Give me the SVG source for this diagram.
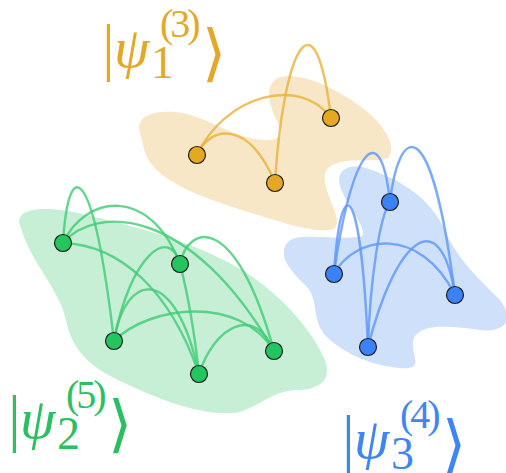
<svg xmlns="http://www.w3.org/2000/svg" width="506" height="473" viewBox="0 0 506 473">
<style>
.e{fill:none;stroke-width:2.4;stroke-linecap:round;stroke-opacity:0.8}
.eo{stroke:#E9B13A}
.eg{stroke:#3FCB74}
.eb{stroke:#5B96F7}
.n{stroke:#1f1f1f;stroke-width:1.2}
.lbl{font-family:"Liberation Serif","DejaVu Serif",serif}
.it{font-style:italic}
.br{font-family:"DejaVu Sans",sans-serif;font-weight:200}
</style>
<rect width="506" height="473" fill="#ffffff"/>
<g id="blobs">
<path id="blob-orange" fill="#F7E7C7" d="M140,133 C135,118 150,110 175,112 C205,115 228,135 255,139 C275,142 286,138 279,125 C271,110 262,86 278,78 C298,70 335,88 360,106 C385,124 398,148 388,158 C375,164 345,155 328,168 C315,182 345,218 335,228 C322,236 280,222 248,212 C210,200 165,185 150,162 C143,152 143,142 140,133 Z"/>
<path id="blob-green" fill="#C6EFD6" d="M20,225 C14,208 45,205 82,214 C132,226 192,240 242,270 C282,295 312,330 325,360 C332,380 320,390 296,390 C270,391 256,410 234,413 C198,416 150,396 110,376 C80,360 70,340 66,320 C60,290 30,262 20,225 Z"/>
<path id="blob-blue" fill="#CFE0FA" d="M288,242 C298,232 330,240 360,237 C372,233 346,206 340,186 C335,168 352,162 372,170 C402,181 430,198 445,230 C456,258 480,280 500,300 C515,320 505,333 480,330 C455,327 422,322 414,338 C408,354 428,370 400,368 C374,366 345,355 326,336 C310,318 320,300 306,286 C292,272 276,256 288,242 Z"/>
</g>
<g id="connectors">
<path class="e eo" d="M197,155 C225,95 300,75 331,118"/>
<path class="e eo" d="M197,155 C210,125 250,120 275,183"/>
<path class="e eo" d="M275,183 C283,50 315,-15 331,118"/>
<path class="e eg" d="M63,243 C68,158 92,155 114,341"/>
<path class="e eg" d="M63,243 C85,195 150,185 180,264"/>
<path class="e eg" d="M63,243 C95,205 190,205 274,351"/>
<path class="e eg" d="M63,243 C120,245 170,290 199,374"/>
<path class="e eg" d="M114,341 C130,255 170,225 180,264"/>
<path class="e eg" d="M180,264 Q192,310 199,374"/>
<path class="e eg" d="M180,264 C188,225 235,210 274,351"/>
<path class="e eg" d="M114,341 C125,272 175,262 199,374"/>
<path class="e eg" d="M114,341 C150,305 240,295 274,351"/>
<path class="e eg" d="M199,374 C215,325 255,305 274,351"/>
<path class="e eb" d="M334,274 C350,155 380,110 390,202"/>
<path class="e eb" d="M390,202 C398,130 430,100 455,295"/>
<path class="e eb" d="M334,274 C340,175 360,170 368,347"/>
<path class="e eb" d="M368,347 C370,280 380,215 390,202"/>
<path class="e eb" d="M334,274 C355,235 420,225 455,295"/>
<path class="e eb" d="M368,347 C395,240 440,200 455,295"/>
</g>
<g id="node-o1"><circle class="n" cx="197" cy="155" r="8.5" fill="#E5A823"/></g>
<g id="node-o2"><circle class="n" cx="275" cy="183" r="8.5" fill="#E5A823"/></g>
<g id="node-o3"><circle class="n" cx="331" cy="118" r="8.5" fill="#E5A823"/></g>
<g id="node-g1"><circle class="n" cx="63" cy="243" r="8.5" fill="#22C55E"/></g>
<g id="node-g2"><circle class="n" cx="180" cy="264" r="8.5" fill="#22C55E"/></g>
<g id="node-g3"><circle class="n" cx="114" cy="341" r="8.5" fill="#22C55E"/></g>
<g id="node-g4"><circle class="n" cx="199" cy="374" r="8.5" fill="#22C55E"/></g>
<g id="node-g5"><circle class="n" cx="274" cy="351" r="8.5" fill="#22C55E"/></g>
<g id="node-b1"><circle class="n" cx="390" cy="202" r="8.5" fill="#3B82F6"/></g>
<g id="node-b2"><circle class="n" cx="334" cy="274" r="8.5" fill="#3B82F6"/></g>
<g id="node-b3"><circle class="n" cx="455" cy="295" r="8.5" fill="#3B82F6"/></g>
<g id="node-b4"><circle class="n" cx="368" cy="347" r="8.5" fill="#3B82F6"/></g>
<g id="label-orange" fill="#E3A826">
<text class="lbl"><tspan x="102" y="68" font-size="64">|</tspan><tspan x="114" y="67" font-size="57" class="it">ψ</tspan><tspan x="151" y="78" font-size="46">1</tspan><tspan x="160" y="37" font-size="40" letter-spacing="-3">(3)</tspan><tspan x="202" y="74" font-size="62" class="br">⟩</tspan></text>
</g>
<g id="label-green" fill="#2CBF62" transform="translate(-94,371)">
<text class="lbl"><tspan x="102" y="68" font-size="64">|</tspan><tspan x="114" y="67" font-size="57" class="it">ψ</tspan><tspan x="151" y="78" font-size="46">2</tspan><tspan x="160" y="37" font-size="40" letter-spacing="-3">(5)</tspan><tspan x="202" y="74" font-size="62" class="br">⟩</tspan></text>
</g>
<g id="label-blue" fill="#3F86F4" transform="translate(240,391)">
<text class="lbl"><tspan x="102" y="68" font-size="64">|</tspan><tspan x="114" y="67" font-size="57" class="it">ψ</tspan><tspan x="151" y="78" font-size="46">3</tspan><tspan x="160" y="37" font-size="40" letter-spacing="-3">(4)</tspan><tspan x="202" y="74" font-size="62" class="br">⟩</tspan></text>
</g>
</svg>
